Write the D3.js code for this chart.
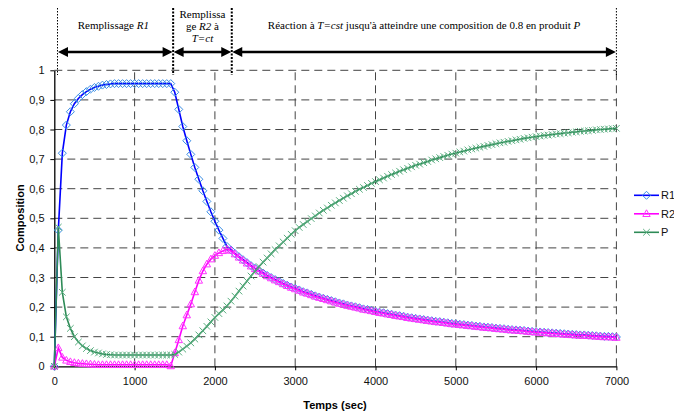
<!DOCTYPE html>
<html><head><meta charset="utf-8">
<script src="https://cdn.jsdelivr.net/npm/d3@7"></script>
<style>body{margin:0;background:#fff}svg{display:block}</style>
</head><body><svg id="c" width="674" height="412"></svg>
<script>
// ---- data ----
const times = d3.range(0, 7001, 50);
const seriesNames = ["R1", "R2", "P"];
const R1 = [0,0.46,0.72,0.815,0.86,0.887,0.905,0.918,0.928,0.936,0.942,0.946,0.95,0.952,0.954,
0.955,0.955,0.955,0.955,0.955,0.955,0.955,0.955,0.955,0.955,0.955,0.955,0.955,0.955,0.955,
0.926,0.868,0.81,0.762,0.716,0.672,0.632,0.593,0.557,0.522,0.49,0.46,0.432,0.405,0.393,
0.381,0.370,0.360,0.350,0.340,0.331,0.323,0.315,0.307,0.300,0.293,0.287,0.280,0.274,0.268,0.263,
0.258,0.252,0.248,0.243,0.238,0.234,0.230,0.226,0.222,0.218,0.214,0.211,0.207,0.204,0.201,0.198,
0.194,0.192,0.189,0.186,0.183,0.181,0.178,0.176,0.173,0.171,0.169,0.166,0.164,0.162,0.160,0.158,
0.156,0.154,0.152,0.151,0.149,0.147,0.145,0.144,0.142,0.141,0.139,0.138,0.136,0.135,0.133,0.132,
0.131,0.129,0.128,0.127,0.125,0.124,0.123,0.122,0.121,0.119,0.118,0.117,0.116,0.115,0.114,0.113,
0.112,0.111,0.110,0.109,0.108,0.107,0.106,0.106,0.105,0.104,0.103,0.102,0.101,0.101,0.100,0.099];
const R2 = [0,0.062,0.03,0.02,0.015,0.012,0.01,0.009,0.008,0.007,0.006,
0.005,0.005,0.005,0.005,0.005,0.005,0.005,0.005,0.005,0.005,0.005,0.005,0.005,0.005,0.005,0.005,0.005,0.005,
0.001,0.045,0.089,0.136,0.173,0.21,0.251,0.29,0.322,0.345,0.362,0.374,0.383,0.39,0.395,0.391,
0.379,0.368,0.358,0.348,0.338,0.329,0.321,0.313,0.305,0.298,0.291,0.285,0.278,0.272,0.266,0.261,
0.256,0.250,0.246,0.241,0.236,0.232,0.228,0.224,0.220,0.216,0.212,0.209,0.205,0.202,0.199,0.196,
0.192,0.190,0.187,0.184,0.181,0.179,0.176,0.174,0.171,0.169,0.167,0.164,0.162,0.160,0.158,0.156,
0.154,0.152,0.150,0.149,0.147,0.145,0.143,0.142,0.140,0.139,0.137,0.136,0.134,0.133,0.131,0.130,
0.129,0.127,0.126,0.125,0.123,0.122,0.121,0.120,0.119,0.117,0.116,0.115,0.114,0.113,0.112,0.111,
0.110,0.109,0.108,0.107,0.106,0.105,0.104,0.104,0.103,0.102,0.101,0.100,0.099,0.099,0.098,0.097];
const P = [0,0.47,0.25,0.167,0.128,0.1,0.082,0.069,0.06,0.053,0.048,0.045,0.042,0.04,0.039,
0.038,0.038,0.038,0.038,0.038,0.038,0.038,0.038,0.038,0.038,0.038,0.038,0.038,0.038,0.038,
0.04,0.048,0.058,0.068,0.079,0.092,0.106,0.12,0.135,0.15,0.165,0.178,0.19,0.204,0.22,
0.237,0.254,0.271,0.288,0.305,0.321,0.337,0.352,0.366,0.38,0.394,0.407,0.42,0.433,0.446,0.458,
0.469,0.479,0.489,0.499,0.508,0.518,0.527,0.535,0.544,0.552,0.560,0.568,0.576,0.583,0.591,0.598,
0.604,0.611,0.618,0.624,0.630,0.636,0.642,0.648,0.653,0.659,0.664,0.669,0.674,0.679,0.683,0.688,
0.692,0.697,0.701,0.705,0.709,0.713,0.717,0.720,0.724,0.727,0.731,0.734,0.737,0.740,0.743,0.746,
0.749,0.752,0.755,0.757,0.760,0.762,0.765,0.767,0.770,0.772,0.774,0.776,0.778,0.780,0.781,0.783,
0.785,0.786,0.788,0.789,0.791,0.792,0.794,0.795,0.796,0.797,0.799,0.800,0.801,0.802,0.803,0.804];
const xTicks = [0,1000,2000,3000,4000,5000,6000,7000];
const yTicks = [0,0.1,0.2,0.3,0.4,0.5,0.6,0.7,0.8,0.9,1];
const phaseBounds = [40, 1480, 2210, 7000];
const phaseLabels = [
  [["Remplissage ", ["R1", true]]],
  [["Remplissa"], ["ge ", ["R2", true], " à"], [["T=ct", true]]],
  [["Réaction à ", ["T=cst", true], " jusqu'à atteindre une composition de 0.8 en produit ", ["P", true]]]
];

// ---- chart ----
const svg = d3.select("#c");
const x = d3.scaleLinear().domain([0, 7000]).range([54.3, 616.4]);
const y = d3.scaleLinear().domain([0, 1]).range([366.3, 70.3]);
const sans = "'Liberation Sans', Arial, sans-serif";
const serif = "'Liberation Serif', 'Times New Roman', serif";

// grid
const g = svg.append("g");
g.selectAll(".hg").data(yTicks.filter(d => d > 0)).join("line")
  .attr("x1", x(0)).attr("x2", x(7000)).attr("y1", d => y(d)).attr("y2", d => y(d))
  .attr("stroke", "#444").attr("stroke-width", 1).attr("stroke-dasharray", "8,5");
g.selectAll(".vg").data(xTicks.filter(d => d > 0)).join("line")
  .attr("x1", d => x(d)).attr("x2", d => x(d)).attr("y1", y(0)).attr("y2", y(1))
  .attr("stroke", "#444").attr("stroke-width", 1).attr("stroke-dasharray", "8,5");

// axes
const xAxis = svg.append("g").attr("transform", `translate(0,${y(0)})`)
  .call(d3.axisBottom(x).tickValues(xTicks).tickSize(4).tickSizeOuter(0).tickFormat(d3.format("d")));
const yAxis = svg.append("g").attr("transform", `translate(${x(0)},0)`)
  .call(d3.axisLeft(y).tickValues(yTicks).tickSize(4).tickSizeOuter(0)
    .tickFormat(d => d === 0 ? "0" : d === 1 ? "1" : d3.format(".1f")(d).replace(".", ",")));
[xAxis, yAxis].forEach(a => {
  a.select(".domain").attr("stroke", "#000").attr("stroke-width", 1.3);
  a.selectAll(".tick line").attr("stroke", "#000");
  a.selectAll("text").attr("font-family", sans).attr("font-size", 11).attr("fill", "#111");
});
xAxis.selectAll("text").attr("dy", "1.05em");
yAxis.selectAll("text").attr("dx", "-0.25em");

svg.append("text").attr("x", 335).attr("y", 409).attr("text-anchor", "middle")
  .attr("font-family", sans).attr("font-size", 11).attr("font-weight", "bold").text("Temps (sec)");
svg.append("text").attr("transform", "translate(24,218) rotate(-90)").attr("text-anchor", "middle")
  .attr("font-family", sans).attr("font-size", 11).attr("font-weight", "bold").text("Composition");

// series
const colors = {R1: "#0000ff", R2: "#ff00ff", P: "#2e8b57"};
const markerColors = {R1: "#3a8ee6", R2: "#ff33ff", P: "#5aae80"};
const dataBy = {R1, R2, P};
const line = d3.line().x(d => x(d[0])).y(d => y(d[1]));
function marker(sel, name, cx, cy) {
  const c = markerColors[name];
  if (name === "R1") {
    sel.append("path").attr("d", `M${cx},${cy-4}L${cx+4},${cy}L${cx},${cy+4}L${cx-4},${cy}Z`)
      .attr("fill", "none").attr("stroke", c).attr("stroke-width", 1);
  } else if (name === "R2") {
    sel.append("path").attr("d", `M${cx},${cy-4}L${cx+3.7},${cy+2.7}L${cx-3.7},${cy+2.7}Z`)
      .attr("fill", "none").attr("stroke", c).attr("stroke-width", 1);
  } else {
    sel.append("path").attr("d", `M${cx-3.3},${cy-3.3}L${cx+3.3},${cy+3.3}M${cx-3.3},${cy+3.3}L${cx+3.3},${cy-3.3}`)
      .attr("fill", "none").attr("stroke", c).attr("stroke-width", 1);
  }
}
seriesNames.forEach(name => {
  const vals = dataBy[name];
  const n = Math.min(vals.length, times.length);
  const pts = d3.range(n).map(i => [times[i], vals[i]]);
  svg.append("path").datum(pts).attr("d", line).attr("fill", "none")
    .attr("stroke", colors[name]).attr("stroke-width", 1.6);
  const mg = svg.append("g");
  pts.forEach(p => marker(mg, name, x(p[0]), y(p[1])));
});

// legend
const lg = svg.append("g");
seriesNames.forEach((name, i) => {
  const ly = 195.3 + i * 18.5;
  lg.append("line").attr("x1", 634).attr("x2", 659).attr("y1", ly).attr("y2", ly)
    .attr("stroke", colors[name]).attr("stroke-width", 1.6);
  marker(lg, name, 646.5, ly);
  lg.append("text").attr("x", 661).attr("y", ly + 4).attr("font-family", sans).attr("font-size", 11)
    .attr("fill", "#111").text(name);
});

// phase annotations
const ann = svg.append("g");
phaseBounds.forEach((b, i) => {
  const bold = i === 1 || i === 2;
  ann.append("line").attr("x1", x(b)).attr("x2", x(b)).attr("y1", 8).attr("y2", 75)
    .attr("stroke", "#000").attr("stroke-width", bold ? 2 : 1).attr("stroke-dasharray", bold ? "2,1.5" : "1.5,1.5");
});
const ay = 52;
for (let i = 0; i < phaseBounds.length - 1; i++) {
  const a = x(phaseBounds[i]) + 0.5, b = x(phaseBounds[i + 1]) - 0.5;
  ann.append("line").attr("x1", a + 6).attr("x2", b - 6).attr("y1", ay).attr("y2", ay)
    .attr("stroke", "#000").attr("stroke-width", 2.5);
  ann.append("path").attr("d", `M${a},${ay}L${a+10},${ay-5}L${a+10},${ay+5}Z`).attr("fill", "#000");
  ann.append("path").attr("d", `M${b},${ay}L${b-10},${ay-5}L${b-10},${ay+5}Z`).attr("fill", "#000");
}
const labelY = [[25], [14, 26, 38], [25]];
phaseLabels.forEach((lines, i) => {
  const cx = (x(phaseBounds[i]) + x(phaseBounds[i + 1])) / 2 + (i === 0 ? -2 : 0);
  lines.forEach((parts, j) => {
    const t = ann.append("text").attr("x", cx).attr("y", labelY[i][j] + 4).attr("text-anchor", "middle")
      .attr("font-family", serif).attr("font-size", 11).attr("fill", "#000");
    parts.forEach(p => {
      if (typeof p === "string") t.append("tspan").text(p);
      else t.append("tspan").attr("font-style", "italic").text(p[0]);
    });
  });
});
</script></body></html>
